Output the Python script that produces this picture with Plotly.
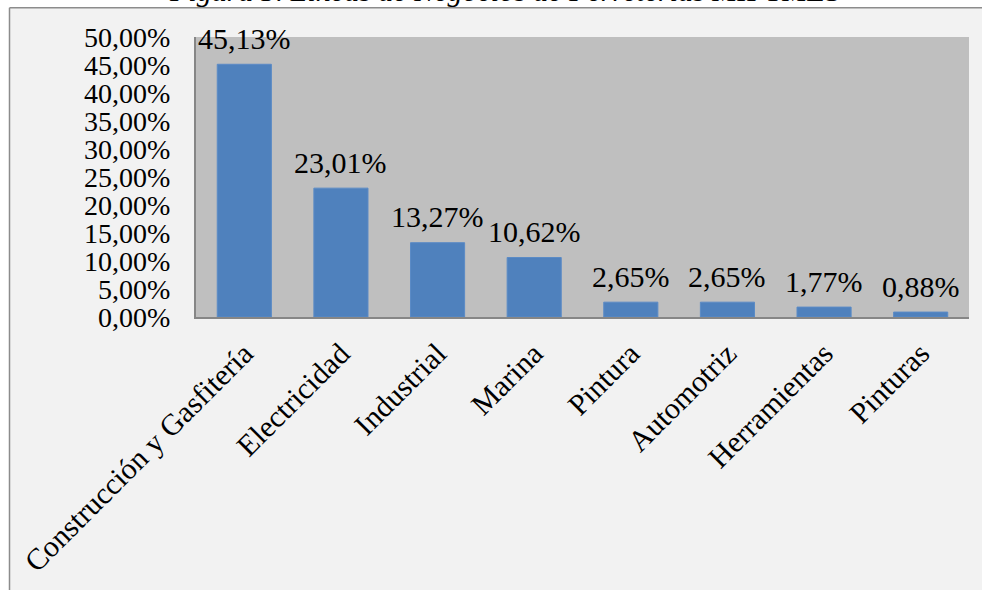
import plotly.graph_objects as go

# Business lines of hardware stores (share of firms, %)
categories = ["Construcción y Gasfitería", "Electricidad", "Industrial", "Marina",
              "Pintura", "Automotriz", "Herramientas", "Pinturas"]
shares = [45.13, 23.01, 13.27, 10.62, 2.65, 2.65, 1.77, 0.88]

tick_values = [0, 5, 10, 15, 20, 25, 30, 35, 40, 45, 50]
tick_labels = ["0,00%", "5,00%", "10,00%", "15,00%", "20,00%", "25,00%",
               "30,00%", "35,00%", "40,00%", "45,00%", "50,00%"]

title_text = "<i>Figura 5. Líneas de Negocios de Ferreterías MIPYMES</i>"

W, H = 982, 590
L, R, T, B = 196, 13, 37, 271
pw, ph = W - L - R, H - T - B

def px_x(p):
    return (p - L) / pw

def px_y(p):
    return (H - B - p) / ph

FONT = "Liberation Serif, Times New Roman, serif"

fig = go.Figure(go.Bar(
    x=categories, y=shares,
    marker=dict(color="#4f81bd", line=dict(color="#5b8bc6", width=1)),
    width=0.56,
))

# value labels above each bar
for c, v in zip(categories, shares):
    fig.add_annotation(
        x=c, y=v, text=f"{v:.2f}".replace(".", ",") + "%",
        showarrow=False, yanchor="middle", yshift=26,
        font=dict(family=FONT, size=30, color="#000000"),
    )

# figure title (top of the page, partly outside the frame)
fig.add_annotation(
    xref="paper", yref="paper", x=px_x(504), y=px_y(9),
    xanchor="center", yanchor="bottom", showarrow=False,
    text=title_text, font=dict(family=FONT, size=30, color="#000000"),
)

# chart frame: light fill with a border on the left and top edges
fig.add_shape(type="rect", xref="paper", yref="paper", layer="below",
              x0=px_x(9.5), x1=px_x(1300), y0=px_y(900), y1=px_y(7.5),
              fillcolor="#f2f2f2", line=dict(width=0))
fig.add_shape(type="line", xref="paper", yref="paper", layer="below",
              x0=px_x(9.5), x1=px_x(9.5), y0=px_y(900), y1=px_y(7.5),
              line=dict(color="#8c8c8c", width=1.5))
fig.add_shape(type="line", xref="paper", yref="paper", layer="below",
              x0=px_x(9.5), x1=px_x(1300), y0=px_y(7.5), y1=px_y(7.5),
              line=dict(color="#8c8c8c", width=1.5))
# plot area fill
fig.add_shape(type="rect", xref="paper", yref="paper", layer="below",
              x0=0, x1=1, y0=0, y1=1, fillcolor="#bfbfbf", line=dict(width=0))

fig.update_layout(
    width=W, height=H,
    margin=dict(l=L, r=R, t=T, b=B, pad=0),
    paper_bgcolor="#ffffff", plot_bgcolor="rgba(0,0,0,0)",
    showlegend=False,
    font=dict(family=FONT, size=30, color="#000000"),
)
fig.update_xaxes(
    range=[-0.5, len(categories) - 0.5],
    tickangle=-45, tickfont=dict(family=FONT, size=30),
    showline=True, linecolor="#868686", linewidth=2,
    showgrid=False, ticks="", ticklabelstandoff=5,
)
fig.update_yaxes(
    range=[0, 50], tickvals=tick_values, ticktext=tick_labels,
    tickfont=dict(family=FONT, size=28),
    showline=True, linecolor="#868686", linewidth=2,
    showgrid=False, zeroline=False, ticks="", ticklabelstandoff=18,
)

fig.write_html("out.html", config={"displayModeBar": False})
